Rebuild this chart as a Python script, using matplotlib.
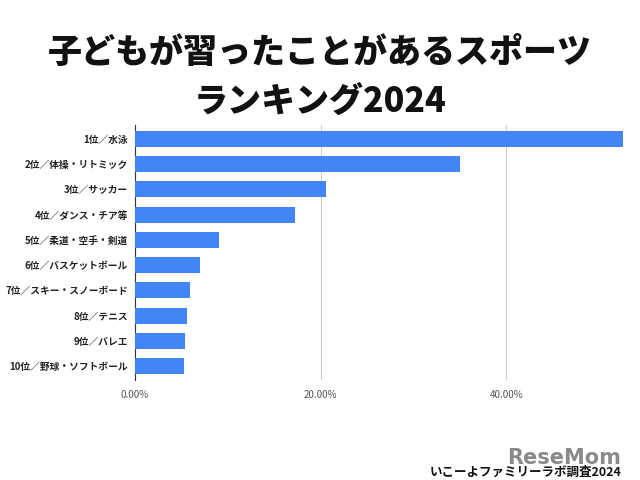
import matplotlib
matplotlib.use("Agg")
import matplotlib.pyplot as plt
from matplotlib.ticker import FuncFormatter

plt.rcParams['font.family'] = ['Noto Sans CJK JP', 'DejaVu Sans']

# data
labels = ['1位／水泳', '2位／体操・リトミック', '3位／サッカー', '4位／ダンス・チア等',
          '5位／柔道・空手・剣道', '6位／バスケットボール', '7位／スキー・スノーボード',
          '8位／テニス', '9位／バレエ', '10位／野球・ソフトボール']
values = [0.526, 0.350, 0.206, 0.172, 0.090, 0.070, 0.059, 0.056, 0.054, 0.053]
ticks = [0.0, 0.2, 0.4]

fig = plt.figure(figsize=(6.4, 4.8), dpi=100)
ax = fig.add_axes([0.211, 0.208, 0.766, 0.532])

ypos = list(range(len(labels)))
ax.barh(ypos, values, height=0.63, color='#4285f4', zorder=3)
ax.set_yticks(ypos)
ax.set_yticklabels(labels, fontsize=7, fontweight='bold', color='#222222')
ax.invert_yaxis()
ax.set_ylim(len(labels) - 0.45, -0.55)
ax.set_xlim(0, 0.528)
ax.set_xticks(ticks)
ax.xaxis.set_major_formatter(FuncFormatter(lambda v, p: f'{v*100:.2f}%'))
ax.tick_params(axis='x', labelsize=7, labelcolor='#555555', length=0, pad=7)
ax.tick_params(axis='y', length=0, pad=5)
ax.grid(axis='x', color='#cccccc', linewidth=0.8, zorder=0)
for s in ['top', 'right', 'bottom']:
    ax.spines[s].set_visible(False)
ax.spines['left'].set_color('#333333')
ax.spines['left'].set_linewidth(0.8)

fig.text(0.5, 0.89, '子どもが習ったことがあるスポーツ', ha='center', va='center',
         fontsize=24.5, fontweight='black', color='#111111')
fig.text(0.5, 0.788, 'ランキング2024', ha='center', va='center',
         fontsize=24.5, fontweight='black', color='#111111')

fig.text(0.97, 0.034, 'ReseMom', ha='right', va='baseline', fontsize=15,
         fontweight='bold', color='#8a8a8a', family=['DejaVu Sans'])
fig.text(0.972, 0.016, 'いこーよファミリーラボ調査2024', ha='right', va='center',
         fontsize=9, fontweight='bold', color='#111111')

fig.savefig('out.png', dpi=100)
